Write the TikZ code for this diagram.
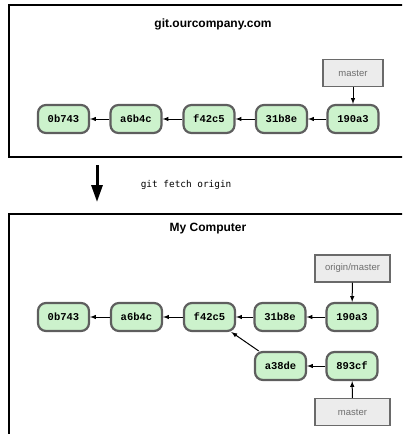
\documentclass[tikz,border=0pt]{standalone}
\usepackage{fontspec}
\setmainfont{Liberation Sans}
\setmonofont{Liberation Mono}
\newfontfamily\cmdfont{DejaVu Sans Mono}
\usetikzlibrary{arrows,arrows.meta,positioning}
\definecolor{commitgreen}{HTML}{CCF2CC}
\definecolor{commitedge}{HTML}{5E5E5E}
\definecolor{reffill}{HTML}{ECECEC}
\definecolor{refedge}{HTML}{6A6A6A}
\definecolor{reftext}{HTML}{6E6E6E}
\begin{document}
\begin{tikzpicture}[x=1pt,y=-1pt,line width=1pt,
  commit/.style={draw=commitedge,fill=commitgreen,line width=2.2pt,rounded corners=8pt,
    minimum width=51pt,minimum height=28pt,inner sep=0pt,
    font=\ttfamily\bfseries\fontsize{10.5}{12}\selectfont},
  branch/.style={draw=refedge,fill=reffill,line width=1.4pt,minimum height=27pt,
    inner sep=0pt,text=reftext,font=\fontsize{9.5}{11}\selectfont},
  title/.style={font=\bfseries\fontsize{12}{14}\selectfont}]
        \clip (0,0) rectangle (402,434);
        %%%%%%%%%%%%%%%%%%%%%%%%%%%server%%%%%%%%%%%%%%%%%%%%%%
          \draw[line width=1.8pt] (9,5) rectangle (420,157);
          \node (t1) at (213,24) [title] {git.ourcompany.com};
          \node (s1) at (63.5,119) [commit] {0b743};
          \node (s2) at (136,119) [commit] {a6b4c};
          \node (s3) at (209,119) [commit] {f42c5};
          \node (s4) at (281.5,119) [commit] {31b8e};
          \node (s5) at (353,119) [commit] {190a3};
          \node[minimum width=60pt] (sm) at (353,73) [branch] {master};

          \draw [>=latex,->](s2) -- (s1);
          \draw [>=latex,->](s3) -- (s2);
          \draw [>=latex,->](s4) -- (s3);
          \draw [>=latex,->](s5) -- (s4);
          \draw [>=latex,->](sm) -- (s5);

        %%%%%%%%%%%%%%%%%%%%%%%%%%%fetch%%%%%%%%%%%%%%%%%%%%%%
          \coordinate (f0) at (97,165);
          \coordinate (f1) at (97,202);
          \draw [line width=3pt,-{Triangle[length=17pt,width=11pt]}](f0) -- (f1);
          \node[anchor=west] (cmd) at (137,185) {\cmdfont\fontsize{9.4}{11}\selectfont git fetch origin};

        %%%%%%%%%%%%%%%%%%%%%%%%%%%local%%%%%%%%%%%%%%%%%%%%%%
          \draw[line width=1.8pt] (9,214) rectangle (420,450);
          \node (t2) at (208,229) [title] {My Computer};
          \node (m1) at (63.5,317) [commit] {0b743};
          \node (m2) at (136.5,317) [commit] {a6b4c};
          \node (m3) at (209.5,317) [commit] {f42c5};
          \node (m4) at (280,317) [commit] {31b8e};
          \node (m5) at (352,317) [commit] {190a3};
          \node (m6) at (280.5,366) [commit] {a38de};
          \node (m7) at (352,366) [commit] {893cf};
          \node[minimum width=75pt] (om) at (352.5,268.5) [branch] {origin/master};
          \node[minimum width=75pt,minimum height=26pt] (lm) at (352.5,412) [branch] {master};

          \draw [>=latex,->](m2) -- (m1);
          \draw [>=latex,->](m3) -- (m2);
          \draw [>=latex,->](m4) -- (m3);
          \draw [>=latex,->](m5) -- (m4);
          \draw [>=latex,->](m6) -- (m3);
          \draw [>=latex,->](m7) -- (m6);
          \draw [>=latex,->](om) -- (m5);
          \draw [>=latex,->](lm) -- (m7);
        \end{tikzpicture}
\end{document}
